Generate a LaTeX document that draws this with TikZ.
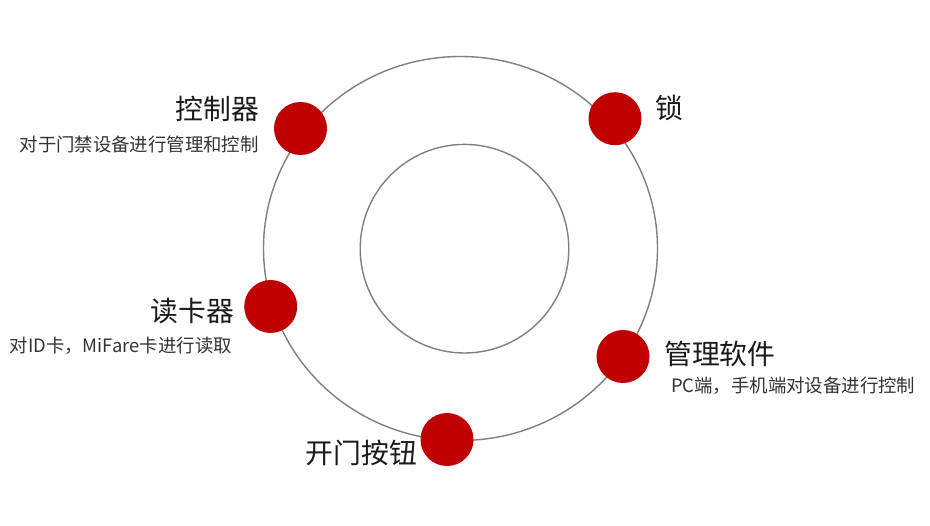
\documentclass[tikz,border=0pt]{standalone}
\usepackage{fontspec}
\setmainfont{Noto Sans CJK SC}
\definecolor{dotred}{HTML}{C00000}
\definecolor{ringgray}{HTML}{7F7F7F}
\definecolor{txt}{HTML}{1A1A1A}
\definecolor{subtxt}{HTML}{333333}
\begin{document}
\begin{tikzpicture}[x=1pt,y=-1pt,
  dot/.style={circle,fill=dotred,draw=none,minimum size=53pt,inner sep=0pt},
  ttl/.style={inner sep=0pt,text=txt,font=\fontsize{27.8}{30}\selectfont},
  sub/.style={inner sep=0pt,text=subtxt,font=\fontsize{18.4}{21}\selectfont},
  ring/.style={draw=ringgray,line width=1.4pt}]
\useasboundingbox (0,0) rectangle (930,526);
\fill[white] (0,0) rectangle (930,526);
\coordinate (ctr) at (460.5,248.5);
\coordinate (ictr) at (464.5,248.7);
\draw[ring] (ctr) ellipse [x radius=197, y radius=192];
\draw[ring] (ictr) circle [radius=104.3];
\node[dot] (d1) at (300.5,128.5) {};
\node[dot] (d2) at (615,118.7) {};
\node[dot] (d3) at (270.7,306.5) {};
\node[dot] (d4) at (623,356.5) {};
\node[dot] (d5) at (447,439.5) {};
\node[ttl,anchor=east] (t1) at (259,108.5) {控制器};
\node[sub,anchor=east] (s1) at (259,145) {对于门禁设备进行管理和控制};
\node[ttl,anchor=west] (t2) at (655,107.5) {锁};
\node[ttl,anchor=east] (t3) at (234,311) {读卡器};
\node[sub,anchor=east] (s3) at (232,345.5) {对ID卡，MiFare卡进行读取};
\node[ttl,anchor=west] (t4) at (664,353.5) {管理软件};
\node[sub,anchor=west] (s4) at (671,385.5) {PC端，手机端对设备进行控制};
\node[ttl,anchor=east] (t5) at (417,453) {开门按钮};
\end{tikzpicture}
\end{document}
